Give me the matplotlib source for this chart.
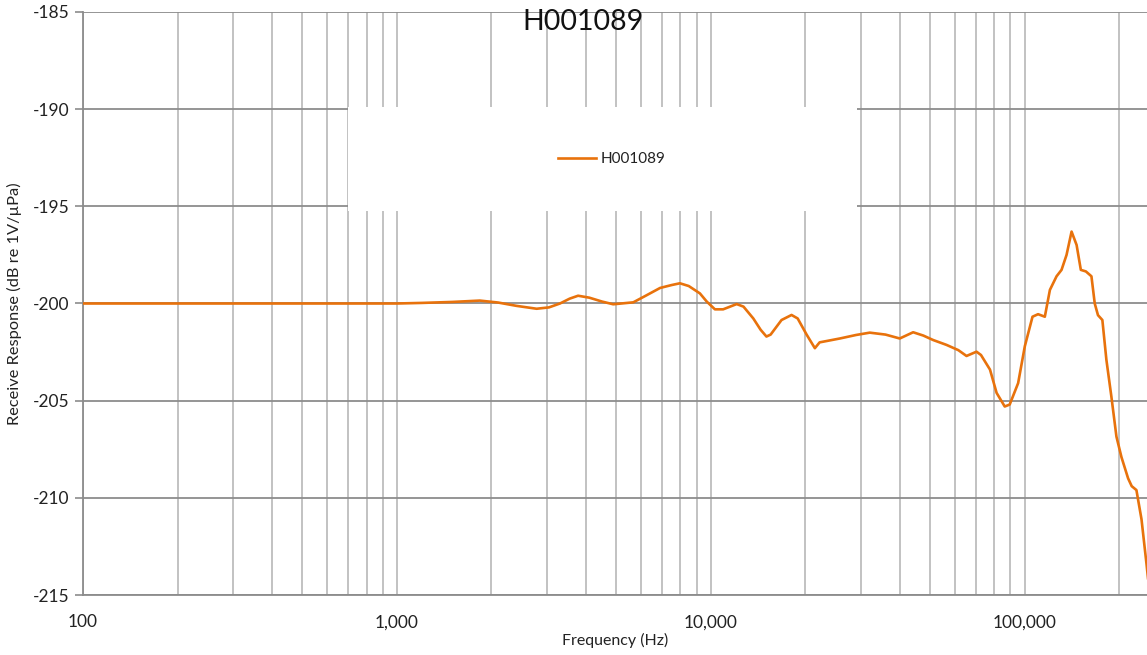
import numpy as np
import matplotlib
matplotlib.use("Agg")
import matplotlib.pyplot as plt
from matplotlib.patches import Rectangle
from matplotlib.ticker import FixedLocator, FuncFormatter, NullFormatter

series_name = "H001089"
freq_hz = [100, 200, 400, 700, 1000, 1200, 1500, 1836, 2100, 2400, 2786, 3050, 3306, 3550, 3776,
           4100, 4500, 4886, 5660, 6200, 6890, 7500, 7967, 8500, 9226, 9700, 10300, 10940,
           12080, 12700, 13650, 14400, 15030, 15500, 16790, 18070, 18900, 20180, 21440, 22200,
           25760, 29000, 32070, 36000, 39960, 44080, 47500, 51060, 56300, 61400, 65200, 70160,
           72500, 77450, 81300, 86300, 89500, 95200, 100000, 105800, 110200, 115800, 120200,
           126200, 130900, 135800, 140900, 146200, 150800, 156500, 163000, 167000, 171000,
           176600, 181900, 188700, 195800, 203100, 213300, 219000, 226700, 235300, 244100, 250000]
response_db = [-200.0, -200.0, -200.0, -200.0, -200.0, -199.97, -199.92, -199.85, -199.95, -200.12,
               -200.27, -200.2, -200.0, -199.75, -199.6, -199.7, -199.9, -200.04, -199.94, -199.6,
               -199.2, -199.05, -198.96, -199.1, -199.48, -199.9, -200.3, -200.3,
               -200.03, -200.16, -200.77, -201.35, -201.7, -201.6, -200.85, -200.59, -200.77,
               -201.6, -202.3, -202.0, -201.8, -201.62, -201.5, -201.6, -201.8, -201.48, -201.65,
               -201.88, -202.13, -202.4, -202.7, -202.48, -202.65, -203.4, -204.6, -205.3, -205.2,
               -204.1, -202.2, -200.68, -200.55, -200.68, -199.3, -198.6, -198.27, -197.5, -196.3,
               -196.99, -198.27, -198.35, -198.6, -200.0, -200.6, -200.85, -202.9, -204.8, -206.85,
               -207.9, -209.0, -209.4, -209.6, -211.1, -213.4, -215.0]
y_ticks = [-215, -210, -205, -200, -195, -190, -185]
x_major = [100, 1000, 10000, 100000]
x_minor = [m * d for d in (100, 1000, 10000, 100000) for m in range(2, 10)]

plt.rcParams['font.family'] = ['Lato', 'DejaVu Sans']
plt.rcParams['axes.unicode_minus'] = False

fig = plt.figure(figsize=(11.47, 6.55), dpi=100)
ax = fig.add_axes([83 / 1147, 60 / 655, 1064 / 1147, 583 / 655])

ax.plot(freq_hz, response_db, color='#E8720C', lw=1.9, zorder=5, label=series_name,
        solid_joinstyle='round')
ax.set_xscale('log')
ax.set_xlim(100, 245000)
ax.set_ylim(-215, -185)

ax.xaxis.set_major_locator(FixedLocator(x_major))
ax.xaxis.set_minor_locator(FixedLocator(x_minor))
ax.xaxis.set_major_formatter(FuncFormatter(lambda v, p: f"{int(round(v)):,}"))
ax.xaxis.set_minor_formatter(NullFormatter())
ax.set_yticks(y_ticks)

ax.grid(True, which='major', axis='y', color='#8c8c8c', lw=1.3, zorder=1)
ax.grid(True, which='both', axis='x', color='#bdbdbd', lw=1.3, zorder=1)

for s in ('top', 'right'):
    ax.spines[s].set_visible(False)
for s in ('left', 'bottom'):
    ax.spines[s].set_color('#8c8c8c')
    ax.spines[s].set_linewidth(1.3)

ax.tick_params(axis='both', which='major', labelsize=12.5, colors='#8c8c8c',
               labelcolor='#222222', length=6, width=1.2)
ax.tick_params(axis='x', which='minor', length=0)
ax.tick_params(axis='x', which='major', length=0, pad=14)

ax.set_xlabel('Frequency (Hz)', fontsize=11.5, color='#222222', labelpad=2)
ax.set_ylabel('Receive Response (dB re 1V/µPa)', fontsize=11.8, color='#222222', labelpad=8)

# white legend box
box = Rectangle((0.249, 0.659), 0.478, 0.178, transform=ax.transAxes,
                facecolor='white', edgecolor='none', zorder=3)
ax.add_patch(box)
leg = ax.legend(loc='center', bbox_to_anchor=(0.497, 0.748), frameon=False,
                fontsize=11, handlelength=2.5, handletextpad=0.3)
leg.set_zorder(6)
for t in leg.get_texts():
    t.set_color('#222222')

fig.text(583 / 1147, 1 - 22 / 655, series_name, ha='center', va='center',
         fontsize=20.5, color='#111111')

fig.savefig('out.png', dpi=100)
